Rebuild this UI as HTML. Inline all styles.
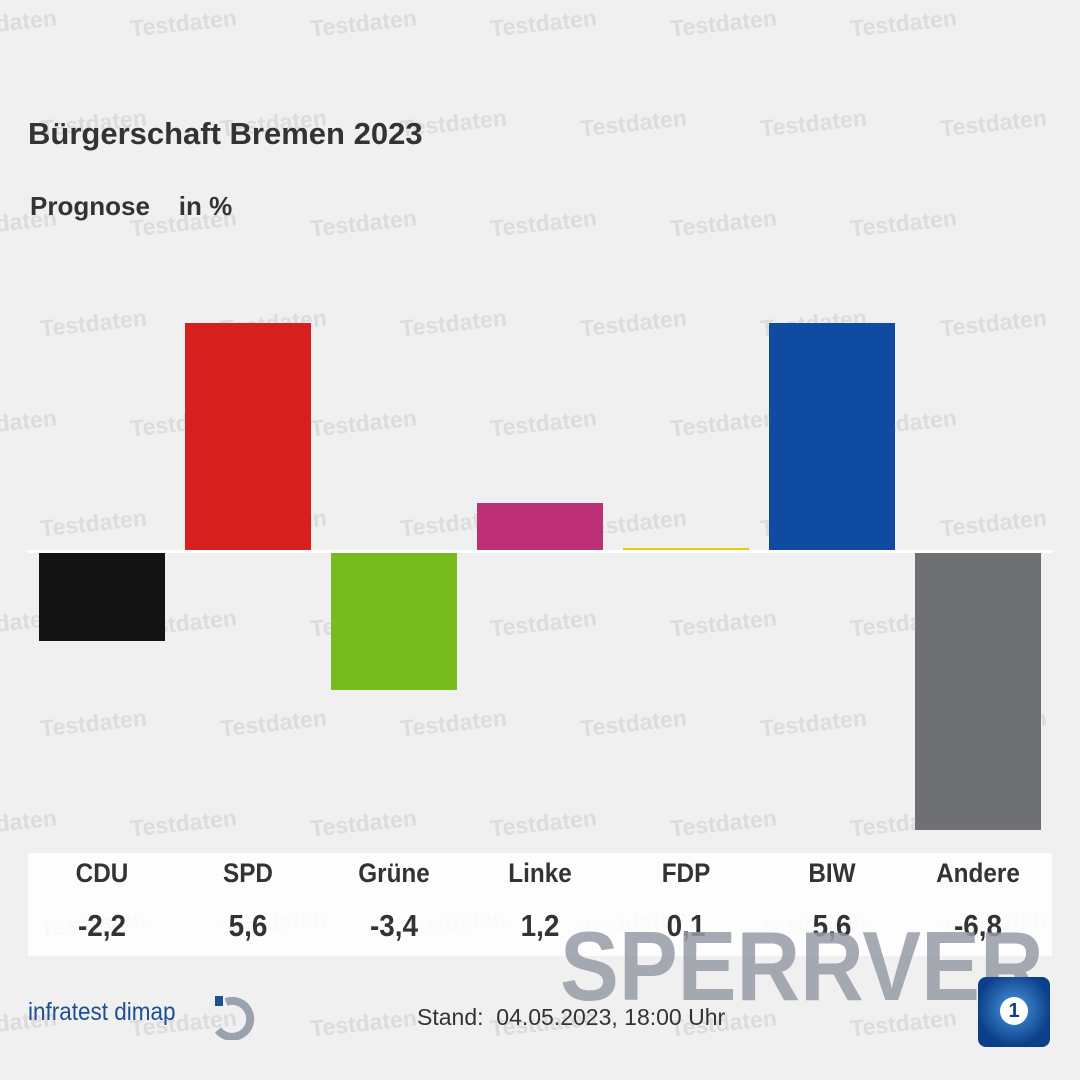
<!DOCTYPE html>
<html><head><meta charset="utf-8"><style>
html,body{margin:0;width:1080px;height:1080px;overflow:hidden;}
body{background:#f0f0f0;position:relative;font-family:"Liberation Sans",sans-serif;}
.wm{position:absolute;color:#dcdcdc;font-size:23px;font-weight:bold;transform:rotate(-6deg);white-space:nowrap;z-index:0;}
.bar{position:absolute;width:126px;z-index:1;}
.t{position:absolute;color:#333;font-weight:bold;z-index:2;}
.lab{position:absolute;width:146px;text-align:center;color:#333;font-size:27px;top:858px;font-weight:bold;transform:scaleX(.9);z-index:2}
.val{position:absolute;width:146px;text-align:center;color:#333;font-size:31px;top:908px;font-weight:bold;transform:scaleX(.9);z-index:2}
</style></head><body>
<div id="w"></div>
<div class="t" style="left:28px;top:116px;font-size:31px;">Bürgerschaft Bremen 2023</div>
<div class="t" style="left:30px;top:191px;font-size:26px;">Prognose &nbsp;&nbsp; in %</div>
<div class="bar" style="left:39px;top:552px;height:89px;background:#141414"></div>
<div class="bar" style="left:185px;top:323px;height:229px;background:#d71f1f"></div>
<div class="bar" style="left:331px;top:552px;height:138px;background:#78bb1e"></div>
<div class="bar" style="left:477px;top:503px;height:49px;background:#bd3075"></div>
<div class="bar" style="left:623px;top:548px;height:4px;background:#f2c600"></div>
<div class="bar" style="left:769px;top:323px;height:229px;background:#0f4ba1"></div>
<div class="bar" style="left:915px;top:552px;height:278px;background:#6f7073"></div>
<div style="position:absolute;left:28px;top:550px;width:1024px;height:3px;background:#fff;z-index:1"></div>
<div style="position:absolute;left:28px;top:853px;width:1024px;height:103px;background:rgba(255,255,255,.85);z-index:1"></div>
<div class="lab" style="left:29px">CDU</div><div class="lab" style="left:175px">SPD</div><div class="lab" style="left:321px">Grüne</div><div class="lab" style="left:467px">Linke</div><div class="lab" style="left:613px">FDP</div><div class="lab" style="left:759px">BIW</div><div class="lab" style="left:905px">Andere</div>
<div class="val" style="left:29px">-2,2</div><div class="val" style="left:175px">5,6</div><div class="val" style="left:321px">-3,4</div><div class="val" style="left:467px">1,2</div><div class="val" style="left:613px">0,1</div><div class="val" style="left:759px">5,6</div><div class="val" style="left:905px">-6,8</div>
<div style="position:absolute;left:28px;top:998px;font-size:25px;color:#1d4f91;transform:scaleX(.9);transform-origin:left;z-index:2">infratest dimap</div>
<svg style="position:absolute;left:212px;top:994px;z-index:2" width="50" height="46"><rect x="3" y="2" width="8" height="10" fill="#1d4f91"/><path d="M14 8 A18 18 0 1 1 6 36" stroke="#9aa3ad" stroke-width="8" fill="none"/></svg>
<div style="position:absolute;left:417px;top:1004px;font-size:23px;color:#333;z-index:2">Stand:&nbsp; 04.05.2023, 18:00 Uhr</div>
<div style="position:absolute;left:560px;top:910px;width:520px;overflow:hidden;height:110px;z-index:3"><div style="font-size:98px;font-weight:bold;color:rgba(150,156,166,.85);white-space:nowrap;transform:scaleX(.9);transform-origin:left">SPERRVER</div></div>
<div style="position:absolute;left:978px;top:977px;width:72px;height:70px;border-radius:8px;background:radial-gradient(circle at 50% 45%,#4a9ae0,#0c3f8a 70%);z-index:4"><div style="position:absolute;left:22px;top:20px;width:28px;height:28px;border-radius:50%;background:#fff;color:#0c3f8a;font-weight:bold;font-size:20px;text-align:center;line-height:28px">1</div></div>
<script>
var s="";for(var r=0;r<11;r++){var y=10+r*100;
for(var x=(r%2==0?-50:40);x<1000;x+=180){s+='<div class="wm" style="left:'+x+'px;top:'+y+'px">Testdaten</div>';}}
document.getElementById('w').innerHTML=s;
</script>
</body></html>
